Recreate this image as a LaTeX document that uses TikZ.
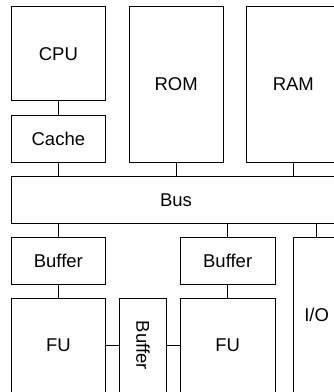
\documentclass[tikz,border=0pt]{standalone}
\usepackage{fontspec}
\setmainfont{Liberation Sans}
\begin{document}
\begin{tikzpicture}[x=1pt,y=-1pt,font=\fontsize{18.5}{22}\selectfont,
  unit/.style={draw,line width=1pt,inner sep=0pt},
  link/.style={line width=1pt}]
\useasboundingbox (0,0) rectangle (334,392);
\clip (0,0) rectangle (334,392);
% memory side
\node[unit,minimum width=94.7pt,minimum height=94pt] (cpu) at (58.35,53.7) {CPU};
\node[unit,minimum width=94.7pt,minimum height=47.3pt] (cache) at (58.35,138.65) {Cache};
\node[unit,minimum width=94.3pt,minimum height=155.6pt] (rom) at (176.15,84.5) {ROM};
\node[unit,minimum width=93.3pt,minimum height=155.6pt] (ram) at (293.35,84.5) {RAM};
\node[unit,minimum width=330pt,minimum height=46.6pt] (bus) at (176,200) {Bus};
% units below the bus
\node[unit,minimum width=94.7pt,minimum height=47pt] (buf1) at (58.35,260.8) {Buffer};
\node[unit,minimum width=94.7pt,minimum height=94pt] (fu1) at (58.35,345.3) {FU};
\node[unit,rotate=-90,minimum width=94pt,minimum height=46.6pt] (vbuf) at (143,345.3) {Buffer};
\node[unit,minimum width=94.7pt,minimum height=47pt] (buf2) at (227.65,260.8) {Buffer};
\node[unit,minimum width=94.7pt,minimum height=94pt] (fu2) at (227.65,345.3) {FU};
\node[unit,minimum width=46.7pt,minimum height=155pt] (io) at (316.65,314.8) {I/O};
% links
\foreach \a/\b in {cpu/cache,buf1/fu1,buf2/fu2,fu1/vbuf,vbuf/fu2}
  \draw[link] (\a) -- (\b);
\foreach \n in {cache,rom,ram}
  \draw[link] (\n.south) -- (\n.south |- bus.north);
\foreach \n in {buf1,buf2,io}
  \draw[link] (bus.south -| \n.north) -- (\n.north);
\end{tikzpicture}
\end{document}
